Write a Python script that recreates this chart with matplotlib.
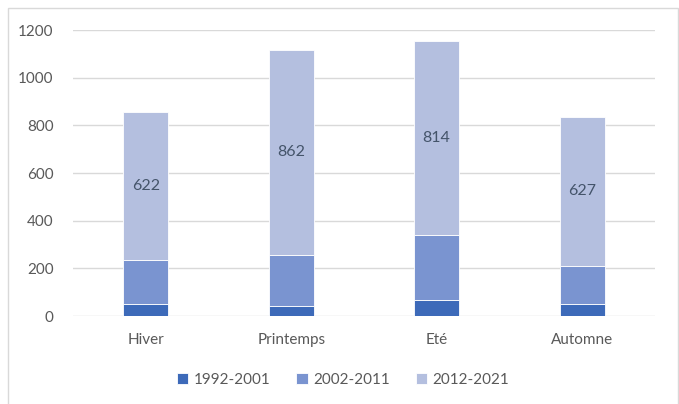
import matplotlib
matplotlib.use("Agg")
import matplotlib.pyplot as plt
from matplotlib.patches import Rectangle
import numpy as np

# Data
seasons = ["Hiver", "Printemps", "Eté", "Automne"]
series_names = ["1992-2001", "2002-2011", "2012-2021"]
v_1992 = [50, 42, 67, 49]
v_2002 = [186, 214, 273, 161]
v_2012 = [622, 862, 814, 627]
colors = ["#3D6AB9", "#7A94D0", "#B4BFDF"]

plt.rcParams["font.family"] = ["Lato", "DejaVu Sans"]
text_color = "#595959"

fig = plt.figure(figsize=(6.79, 4.04), dpi=100)
ax = fig.add_axes([0.1075, 0.2178, 0.857, 0.7079])

x = np.arange(len(seasons))
width = 0.31
bottom = np.zeros(len(seasons))
bars = []
for vals, name, c in zip([v_1992, v_2002, v_2012], series_names, colors):
    b = ax.bar(x, vals, width, bottom=bottom, color=c, label=name,
               edgecolor="white", linewidth=0.6, zorder=3)
    bars.append(b)
    bottom += np.array(vals)

# only the last series carries labels
ax.bar_label(bars[-1], labels=[str(v) for v in v_2012], label_type="center",
             color="#44546A", fontsize=11.5)

ax.set_xlim(-0.5, len(seasons) - 0.5)
ax.set_ylim(0, 1200)
ax.set_yticks(np.arange(0, 1201, 200))
ax.set_xticks(x)
ax.set_xticklabels(seasons)
ax.grid(axis="y", color="#D9D9D9", linewidth=1, zorder=0)
for s in ax.spines.values():
    s.set_visible(False)
ax.tick_params(axis="both", length=0, colors=text_color, labelsize=11)
ax.tick_params(axis="y", pad=14)
ax.tick_params(axis="x", pad=12)

fig.legend(loc="center", bbox_to_anchor=(0.505, 0.06), ncol=3, frameon=False,
           fontsize=11, labelcolor=text_color, handlelength=0.75,
           handleheight=0.75, handletextpad=0.35, columnspacing=1.7)

# light frame around the chart area
fig.patches.append(Rectangle((8 / 679, -0.01), 670 / 679, 1 - 8 / 404 + 0.01,
                             transform=fig.transFigure, fill=False,
                             edgecolor="#D9D9D9", linewidth=1))

fig.savefig("out.png", dpi=100)
